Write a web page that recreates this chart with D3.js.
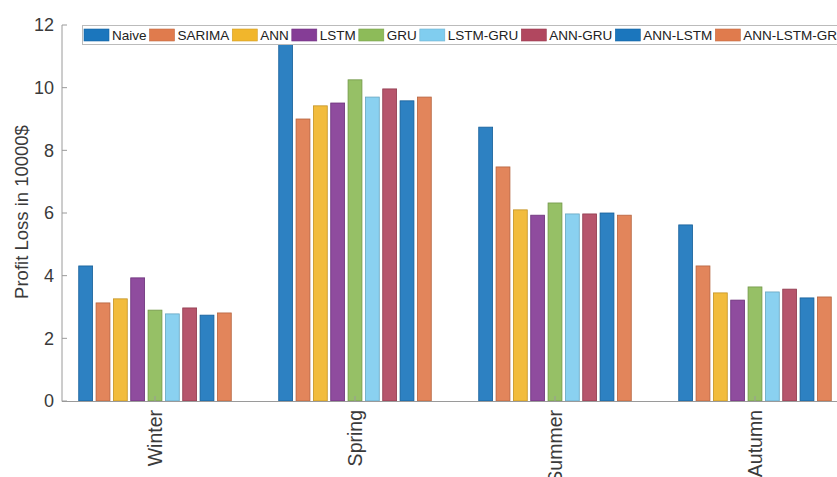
<!DOCTYPE html>
<html>
<head>
<meta charset="utf-8">
<script src="https://cdn.jsdelivr.net/npm/d3@7"></script>
<style>
  body { margin: 0; background: #fff; }
  svg { display: block; font-family: "Liberation Sans", Arial, sans-serif; }
</style>
</head>
<body>
<div id="chart"></div>
<script>
// data
const seasons = ['Winter', 'Spring', 'Summer', 'Autumn'];
const models = ['Naive', 'SARIMA', 'ANN', 'LSTM', 'GRU', 'LSTM-GRU', 'ANN-GRU', 'ANN-LSTM', 'ANN-LSTM-GRU'];
const naive = [4.31, 11.6, 8.74, 5.62];
const sarima = [3.13, 9.0, 7.47, 4.31];
const ann = [3.26, 9.42, 6.10, 3.45];
const lstm = [3.93, 9.51, 5.93, 3.22];
const gru = [2.90, 10.25, 6.32, 3.64];
const lstmGru = [2.78, 9.70, 5.97, 3.48];
const annGru = [2.97, 9.96, 5.97, 3.57];
const annLstm = [2.74, 9.58, 6.00, 3.29];
const annLstmGru = [2.81, 9.70, 5.93, 3.32];
const yTicks = [0, 2, 4, 6, 8, 10, 12];

const series = [naive, sarima, ann, lstm, gru, lstmGru, annGru, annLstm, annLstmGru];
const colors = ['#1b76bd', '#e07b4d', '#f1b62c', '#853d96', '#8dbb59', '#80cdef', '#b1475f', '#1b76bd', '#e07b4d'];

const W = 837, H = 477;
const plot = { left: 62, top: 25, bottom: 401, right: 862 };

const svg = d3.select('#chart').append('svg')
  .attr('width', W)
  .attr('height', H);

const x = d3.scaleBand()
  .domain(seasons)
  .range([55, 855]);

const xs = d3.scaleBand()
  .domain(models)
  .range([-78, 78])
  .paddingInner(0.2)
  .paddingOuter(0.1);

const y = d3.scaleLinear()
  .domain([0, 12])
  .range([plot.bottom, plot.top]);

const rows = [];
seasons.forEach((s, i) => {
  models.forEach((m, j) => {
    rows.push({ season: s, model: m, value: series[j][i], color: colors[j] });
  });
});

// bars
svg.append('g')
  .selectAll('rect')
  .data(rows)
  .join('rect')
  .attr('x', d => x(d.season) + x.bandwidth() / 2 + xs(d.model))
  .attr('width', xs.bandwidth())
  .attr('y', d => y(d.value))
  .attr('height', d => y(0) - y(d.value))
  .attr('fill', d => d.color)
  .attr('fill-opacity', 0.92)
  .attr('stroke', d => d3.color(d.color).darker(0.6))
  .attr('stroke-width', 0.8);

// axes
const axisColor = '#9a9a9a';
svg.append('line')
  .attr('x1', plot.left).attr('x2', plot.left)
  .attr('y1', plot.top).attr('y2', plot.bottom + 0.5)
  .attr('stroke', axisColor);
svg.append('line')
  .attr('x1', plot.left).attr('x2', W)
  .attr('y1', plot.bottom + 0.5).attr('y2', plot.bottom + 0.5)
  .attr('stroke', axisColor);

const yAxis = svg.append('g');
yAxis.selectAll('line')
  .data(yTicks)
  .join('line')
  .attr('x1', plot.left).attr('x2', plot.left + 5)
  .attr('y1', d => y(d)).attr('y2', d => y(d))
  .attr('stroke', axisColor);
yAxis.selectAll('text')
  .data(yTicks)
  .join('text')
  .attr('x', plot.left - 8)
  .attr('y', d => y(d))
  .attr('dy', '0.36em')
  .attr('text-anchor', 'end')
  .attr('fill', '#3a3a3a')
  .style('font-size', '18px')
  .text(d => d);

const xAxis = svg.append('g');
xAxis.selectAll('line')
  .data(seasons)
  .join('line')
  .attr('x1', d => x(d) + x.bandwidth() / 2).attr('x2', d => x(d) + x.bandwidth() / 2)
  .attr('y1', plot.bottom).attr('y2', plot.bottom - 5)
  .attr('stroke', axisColor);
xAxis.selectAll('text')
  .data(seasons)
  .join('text')
  .attr('transform', d => `translate(${x(d) + x.bandwidth() / 2},${plot.bottom + 9}) rotate(-90)`)
  .attr('dy', '0.36em')
  .attr('text-anchor', 'end')
  .attr('fill', '#3a3a3a')
  .style('font-size', '19.5px')
  .text(d => d);

svg.append('text')
  .attr('transform', `translate(21,212) rotate(-90)`)
  .attr('text-anchor', 'middle')
  .attr('dy', '0.36em')
  .attr('fill', '#3a3a3a')
  .style('font-size', '18.5px')
  .text('Profit Loss in 10000$');

// legend
const legend = svg.append('g');
legend.append('rect')
  .attr('x', 82.5).attr('y', 25.5)
  .attr('width', 800).attr('height', 19)
  .attr('fill', '#fff')
  .attr('stroke', '#bbb');

let lx = 84;
models.forEach((m, j) => {
  legend.append('rect')
    .attr('x', lx).attr('y', 29)
    .attr('width', 25).attr('height', 12)
    .attr('fill', colors[j])
    .attr('stroke', d3.color(colors[j]).darker(0.4))
    .attr('stroke-width', 0.6);
  const t = legend.append('text')
    .attr('x', lx + 28).attr('y', 35)
    .attr('dy', '0.36em')
    .attr('fill', '#222')
    .style('font-size', '13.5px')
    .text(m);
  lx += 28 + t.node().getComputedTextLength() + 3;
});
</script>
</body>
</html>
